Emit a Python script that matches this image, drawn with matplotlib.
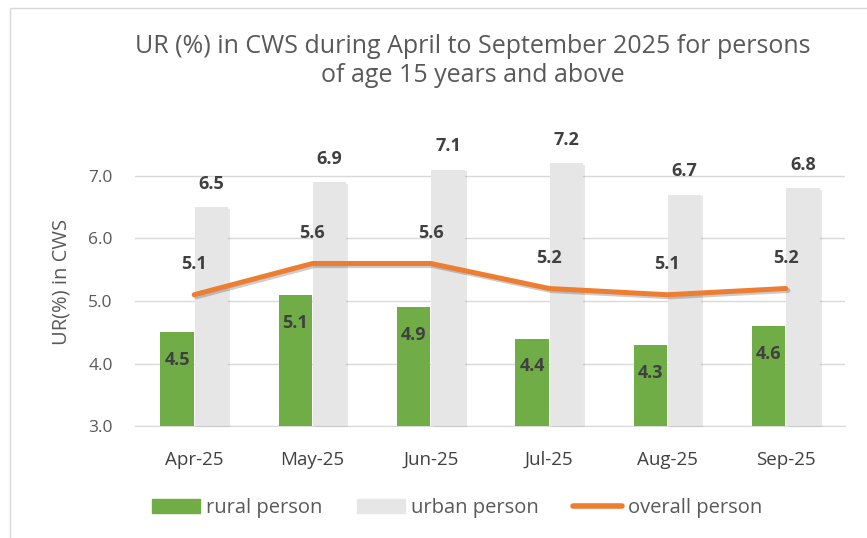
import matplotlib.pyplot as plt
import matplotlib.patheffects as pe
import numpy as np
from matplotlib.patches import Rectangle, Patch
from matplotlib.lines import Line2D

plt.rcParams['font.family'] = ['Open Sans', 'DejaVu Sans']

# Data
months = ["Apr-25", "May-25", "Jun-25", "Jul-25", "Aug-25", "Sep-25"]
rural = [4.5, 5.1, 4.9, 4.4, 4.3, 4.6]
urban = [6.5, 6.9, 7.1, 7.2, 6.7, 6.8]
overall = [5.1, 5.6, 5.6, 5.2, 5.1, 5.2]

green = "#70AD47"
grey = "#E7E6E6"
orange = "#ED7D31"
label_c = "#404040"
text_c = "#595959"

fig = plt.figure(figsize=(8.67, 5.38), dpi=100)
ax = fig.add_axes([135 / 867, 1 - 426 / 538, 710 / 867, (426 - 138.5) / 538])

x = np.arange(len(months))
w = 0.28
shadow = [pe.SimplePatchShadow(offset=(1.5, -1), alpha=0.12), pe.Normal()]

ax.bar(x - 0.145, np.array(rural) - 3, w, bottom=3, color=green, zorder=3)
b2 = ax.bar(x + 0.145, np.array(urban) - 3, w, bottom=3, color=grey, zorder=3)
for b in b2:
    b.set_path_effects(shadow)
    b.set_clip_on(False)
ax.plot(x, overall, color=orange, lw=3.6, solid_capstyle="round", zorder=4,
        path_effects=[pe.SimpleLineShadow(offset=(1.5, -1.5), alpha=0.2), pe.Normal()])

# data labels
for i in range(len(months)):
    ax.annotate(f"{rural[i]:.1f}", (x[i] - 0.145, rural[i]), xytext=(0, -20), textcoords="offset points",
                ha="center", va="center", fontsize=13, fontweight="bold", color=label_c, zorder=5)
    ax.annotate(f"{urban[i]:.1f}", (x[i] + 0.145, urban[i]), xytext=(0, 17), textcoords="offset points",
                ha="center", va="center", fontsize=13, fontweight="bold", color=label_c, zorder=5)
    ax.annotate(f"{overall[i]:.1f}", (x[i], overall[i]), xytext=(0, 22), textcoords="offset points",
                ha="center", va="center", fontsize=13, fontweight="bold", color=label_c, zorder=5)

ax.set_xlim(-0.5, len(months) - 0.5)
ax.set_ylim(3, 7.6)
ax.set_yticks([3, 4, 5, 6, 7])
ax.set_yticklabels([f"{v:.1f}" for v in [3, 4, 5, 6, 7]])
ax.set_xticks(x)
ax.set_xticklabels(months)
ax.tick_params(axis="y", length=0, pad=16, labelsize=12.5, labelcolor=text_c)
ax.tick_params(axis="x", length=0, pad=18, labelsize=13.5, labelcolor=label_c)
ax.yaxis.grid(True, color="#D9D9D9", lw=1)
ax.set_axisbelow(True)
for s in ["top", "right", "left"]:
    ax.spines[s].set_visible(False)
ax.spines["bottom"].set_color("#D9D9D9")
ax.set_ylabel("UR(%) in CWS", fontsize=14.5, color=text_c, labelpad=12)

fig.text(0.545, 1 - 61 / 538, "UR (%) in CWS during April to September 2025 for persons\nof age 15 years and above",
         ha="center", va="center", fontsize=18, color=text_c, linespacing=1.25)

handles = [Patch(color=green, label="rural person"),
           Patch(color=grey, label="urban person"),
           Line2D([], [], color=orange, lw=4, solid_capstyle="round", label="overall person")]
fig.legend(handles=handles, loc="center left", bbox_to_anchor=(134 / 867, 1 - 508 / 538), ncol=3,
           frameon=False, fontsize=14.5, labelcolor=text_c, handlelength=2.4, handleheight=0.7,
           handletextpad=0.3, columnspacing=1.7)

# chart area border
fig.patches.append(Rectangle((10 / 867, -0.1), 1.2, 1.1 - 8 / 538, transform=fig.transFigure,
                             fill=False, edgecolor="#D9D9D9", lw=1))

fig.savefig("out.png", dpi=100)
